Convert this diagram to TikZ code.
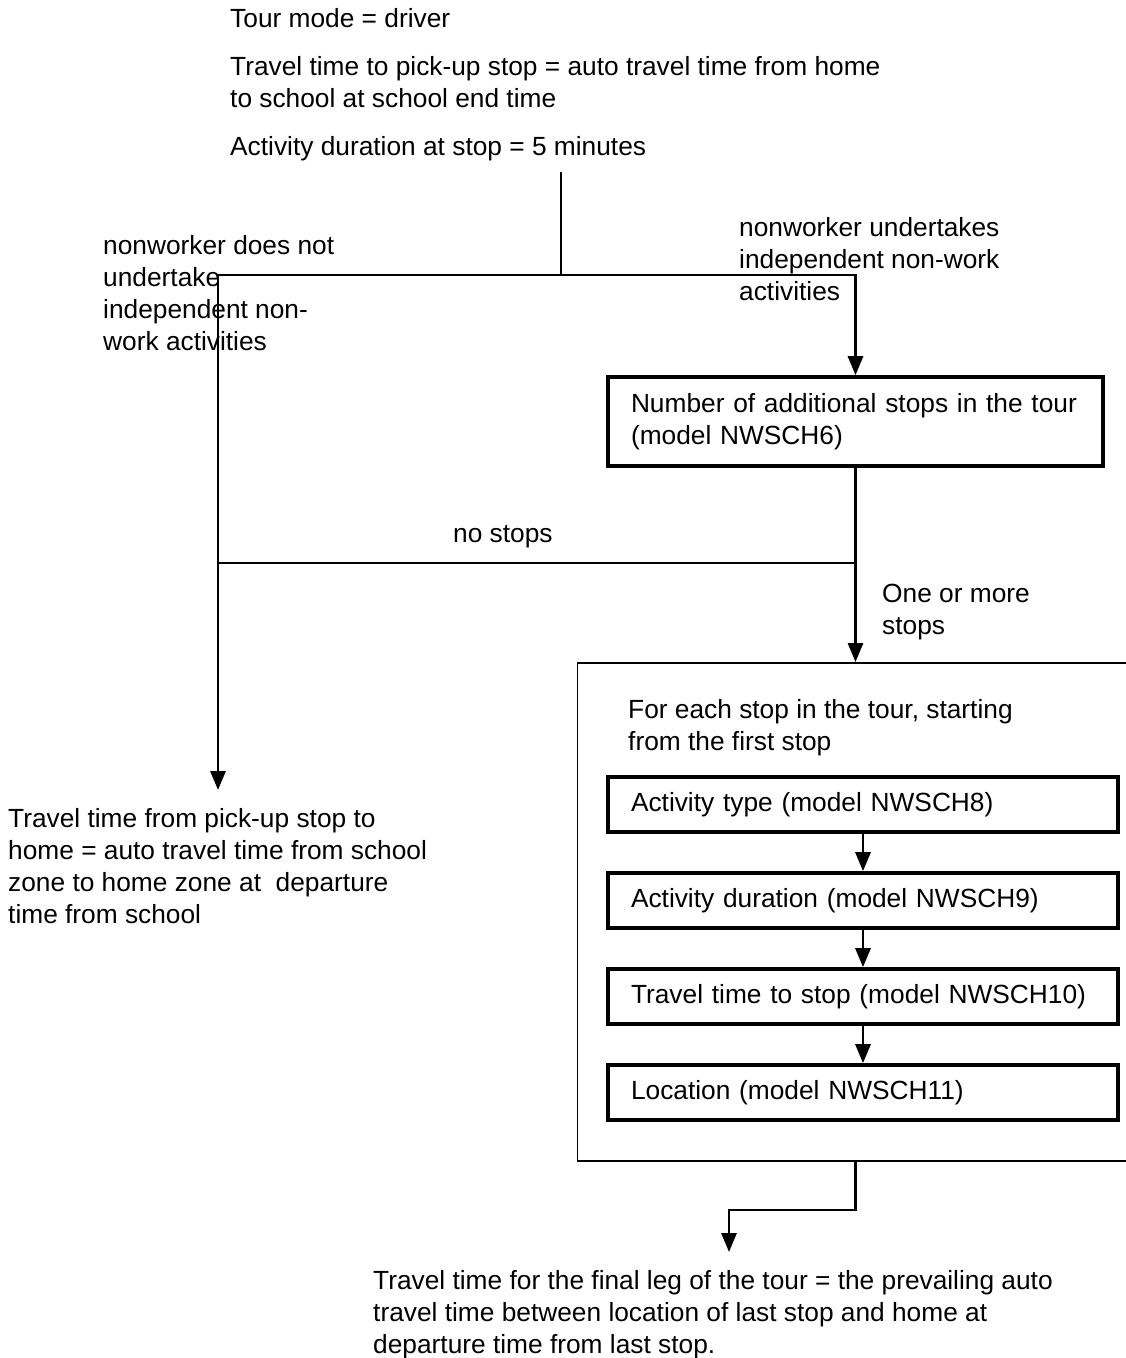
\documentclass[tikz,border=0pt]{standalone}
\usepackage{fontspec}
\setmainfont{Liberation Sans}
\usetikzlibrary{arrows.meta}
% multi-line text whose baseline is that of its first line
\newcommand\txtlines[1]{\parbox[t]{900pt}{#1}}
\begin{document}
\begin{tikzpicture}[x=1pt,y=-1pt,
  every node/.style={font=\fontsize{26.3}{32}\selectfont},
  txt/.style={anchor=base west, inner sep=0pt},
  link/.style={line width=2.9pt},
  flow/.style={link, -{Triangle[length=19pt,width=15pt]}},
  stepbox/.style={draw, line width=3.6pt, inner xsep=23pt, inner ysep=0pt,
    align=left, text width=#1},
  stepbox/.default=449pt
]
\useasboundingbox (0,0) rectangle (1126,1358);
\clip (0,0) rectangle (1126,1358);

% header texts
\node[txt] (mode) at (230,27) {Tour mode = driver};
\node[txt] (pick) at (230,75) {\txtlines{Travel time to pick-up stop = auto travel time from home\\to school at school end time}};
\node[txt] (dur) at (230,155) {Activity duration at stop = 5 minutes};

% decision on independent activities
\coordinate (s0) at (561,172);
\coordinate (j1) at (561,275);
\coordinate (lt) at (218,790);

\node[txt] (lno) at (103,254) {\txtlines{nonworker does not\\undertake\\independent non-\\work activities}};
\node[txt] (lyes) at (739,236) {\txtlines{nonworker undertakes\\independent non-work\\activities}};

% number of stops
\node[stepbox=449pt, minimum width=495pt, minimum height=89pt] (n6) at (855.5,421.5)
  {\raisebox{-3pt}{\parbox{449pt}{Number of additional stops in the tour\\(model NWSCH6)}}};

\coordinate (j2) at (855.5,563);
\node[txt] (nostop) at (453,542) {no stops};
\node[txt] (more) at (882,602) {\txtlines{One or more\\stops}};

% loop over stops
\node[draw, line width=1.9pt, minimum width=556pt, minimum height=498pt, inner sep=0pt] (loop) at (855.5,912) {};
\node[txt] (each) at (628,718) {\txtlines{For each stop in the tour, starting\\from the first stop}};

\node[stepbox=464pt, minimum width=510pt, minimum height=55pt] (n8) at (863,804.5) {\raisebox{-2pt}{Activity type (model NWSCH8)}};
\node[stepbox=464pt, minimum width=510pt, minimum height=55pt] (n9) at (863,900.5) {\raisebox{-2pt}{Activity duration (model NWSCH9)}};
\node[stepbox=464pt, minimum width=510pt, minimum height=55pt] (n10) at (863,996.5) {\raisebox{-2pt}{Travel time to stop (model NWSCH10)}};
\node[stepbox=464pt, minimum width=510pt, minimum height=55pt] (n11) at (863,1092.5) {\raisebox{-2pt}{Location (model NWSCH11)}};

% outcome texts
\node[txt] (home) at (8,827) {\txtlines{Travel time from pick-up stop to\\home = auto travel time from school\\zone to home zone at\ \ departure\\time from school}};
\node[txt] (final) at (373,1289) {\txtlines{Travel time for the final leg of the tour = the prevailing auto\\travel time between location of last stop and home at\\departure time from last stop.}};

\coordinate (bk) at (729,1210);
\coordinate (b1) at (729,1252);

% connectors
\draw[link] (s0) -- (j1);
\draw[flow] (j1) -| (n6.north);
\draw[flow] (j1) -| (lt);
\draw[flow] (n6.south) -- (loop.north);
\draw[link] (j2) -- (j2 -| lt);
\draw[flow] (n8) -- (n9);
\draw[flow] (n9) -- (n10);
\draw[flow] (n10) -- (n11);
\draw[flow] (loop.south) |- (bk) -- (b1);
\end{tikzpicture}
\end{document}
